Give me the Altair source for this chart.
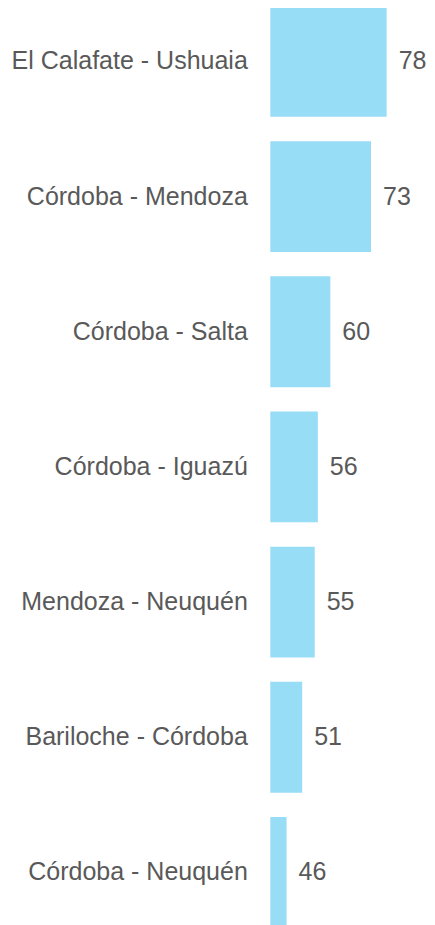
import altair as alt
import pandas as pd

routes = [
    "El Calafate - Ushuaia",
    "Córdoba - Mendoza",
    "Córdoba - Salta",
    "Córdoba - Iguazú",
    "Mendoza - Neuquén",
    "Bariloche - Córdoba",
    "Córdoba - Neuquén",
]
values = [78, 73, 60, 56, 55, 51, 46]

df = pd.DataFrame({"route": routes, "value": values})

TEXT = "#595959"
FONT = "Liberation Sans"

y = alt.Y(
    "route:N",
    sort=routes,
    title=None,
    scale=alt.Scale(range=[-14.2, 932], paddingInner=0.18, paddingOuter=0.09),
    axis=alt.Axis(
        domain=False,
        ticks=False,
        grid=False,
        labelFontSize=25,
        labelColor=TEXT,
        labelFont=FONT,
        labelPadding=23,
        labelLimit=400,
    ),
)
xscale = alt.Scale(domain=[40.8, 90.9], zero=False, nice=False)

bars = alt.Chart(df).mark_bar(color="#97DDF5").encode(
    x=alt.X("value:Q", title=None, axis=None, scale=xscale, stack=None),
    x2=alt.value(0),
    y=y,
)
labels = alt.Chart(df).mark_text(
    align="left", baseline="middle", dx=12, fontSize=25, color=TEXT, font=FONT
).encode(
    x=alt.X("value:Q", title=None, axis=None, scale=xscale),
    y=y,
    text=alt.Text("value:Q"),
)

chart = (
    alt.layer(bars, labels)
    .properties(
        width=156.7,
        height=917,
        background="white",
        autosize=alt.AutoSizeParams(type="none"),
        padding={"left": 262.3, "top": 0, "right": 0, "bottom": 0},
    )
    .configure_view(strokeWidth=0)
)

chart.save("out.html", embed_options={"renderer": "svg", "actions": False})
